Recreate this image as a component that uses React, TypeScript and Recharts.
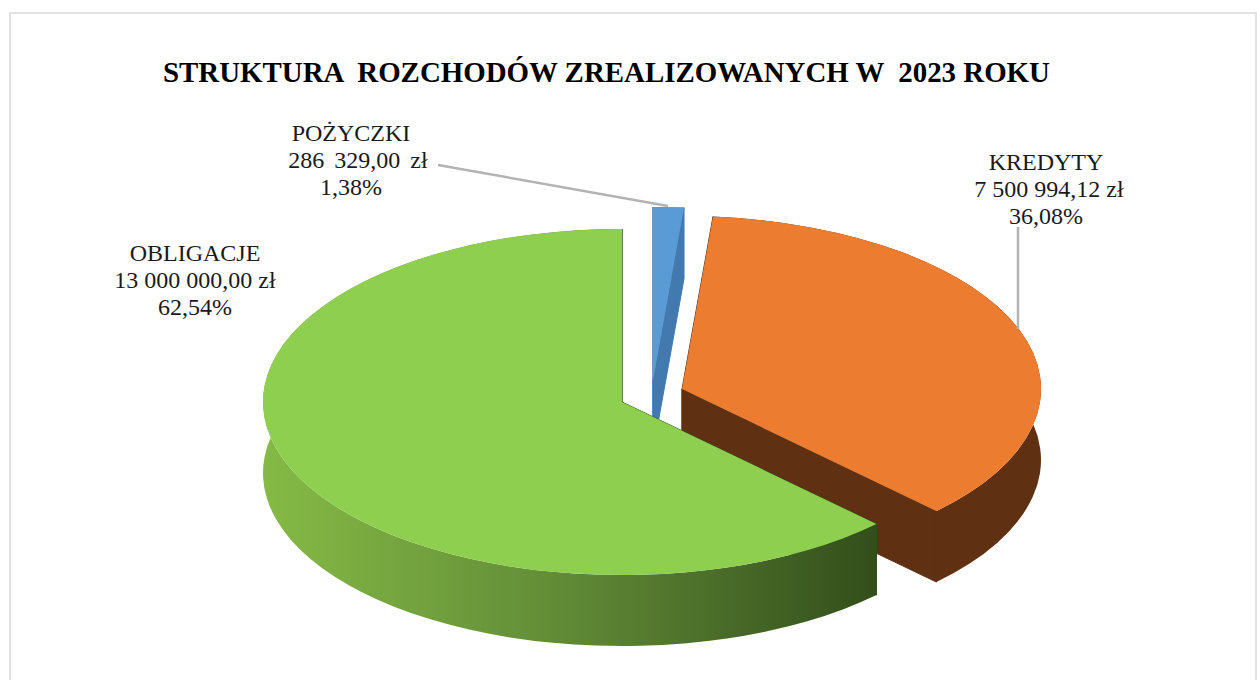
import { PieChart, Pie } from 'recharts';

const categories = ['POŻYCZKI', 'KREDYTY', 'OBLIGACJE'];
const amounts = [286329.0, 7500994.12, 13000000.0];
const amountLabels = ['286 329,00 zł', '7 500 994,12 zł', '13 000 000,00 zł'];
const percentLabels = ['1,38%', '36,08%', '62,54%'];

const topColors = ['#5b9bd5', '#ec7c30', '#8ecf50'];
const sideColors = ['#4279ae', '#5f3012', 'url(#greenSide)'];
const cutColors = ['#4279ae', '#5f3012', '#344f1c'];

// how far each slice is pulled out of the pie
const explode = [
  { dx: 31, dy: -22 },
  { dx: 60, dy: -13 },
  { dx: 0, dy: 0 },
];
const labelPos = [
  { x: 351, y: 141, amountShift: 7, wordSpacing: 4 },
  { x: 1046, y: 170, amountShift: 3, wordSpacing: 0 },
  { x: 195, y: 261, amountShift: 0, wordSpacing: 0 },
];
const leaders = [
  [[438, 165], [668, 206]],
  [[1018, 227], [1018, 329]],
];

const TILT = 0.482; // squash of the pie's ellipse
const DEPTH = 71;
const RAD = Math.PI / 180;

const data = categories.map((name, i) => ({ name, value: amounts[i], fill: topColors[i] }));

function Slice3D(props: any) {
  const { cx, cy, outerRadius: r, startAngle, endAngle, index } = props;
  const i = index ?? categories.indexOf(props.name);
  const ox = cx + explode[i].dx;
  const oy = cy + explode[i].dy;
  const ry = r * TILT;
  const pt = (a: number) => [ox + r * Math.cos(a * RAD), oy - ry * Math.sin(a * RAD)];
  const [x1, y1] = pt(startAngle);
  const [x2, y2] = pt(endAngle);
  const large = Math.abs(endAngle - startAngle) > 180 ? 1 : 0;

  const top = `M${ox},${oy} L${x1},${y1} A${r},${ry} 0 ${large} 1 ${x2},${y2} Z`;
  const side =
    `M${x1},${y1} A${r},${ry} 0 ${large} 1 ${x2},${y2} L${x2},${y2 + DEPTH} ` +
    `A${r},${ry} 0 ${large} 0 ${x1},${y1 + DEPTH} Z`;
  const cutA = `M${ox},${oy} L${x1},${y1} L${x1},${y1 + DEPTH} L${ox},${oy + DEPTH} Z`;
  const cutB = `M${ox},${oy} L${x2},${y2} L${x2},${y2 + DEPTH} L${ox},${oy + DEPTH} Z`;

  return (
    <g>
      <path d={cutA} fill={cutColors[i]} stroke={cutColors[i]} strokeWidth={1} />
      <path d={cutB} fill={cutColors[i]} stroke={cutColors[i]} strokeWidth={1} />
      <path d={side} fill={sideColors[i]} />
      <path d={top} fill={topColors[i]} />
    </g>
  );
}

function SliceLabel(props: any) {
  const i = props.index;
  const pos = labelPos[i];
  const line = leaders[i];
  return (
    <g>
      {line && (
        <line x1={line[0][0]} y1={line[0][1]} x2={line[1][0]} y2={line[1][1]} stroke="#b3b3b3" strokeWidth={2.5} />
      )}
      <text x={pos.x} y={pos.y} textAnchor="middle" fontFamily="Liberation Serif" fontSize={24} fill="#1a1a1a">
        <tspan x={pos.x}>{categories[i]}</tspan>
        <tspan x={pos.x + pos.amountShift} dy={27} style={{ wordSpacing: pos.wordSpacing }}>{amountLabels[i]}</tspan>
        <tspan x={pos.x} dy={27}>{percentLabels[i]}</tspan>
      </text>
    </g>
  );
}

export default function App() {
  return (
    <div style={{ position: 'absolute', left: 0, top: 0, width: 1257, height: 680, overflow: 'hidden', background: '#fff' }}>
      <div style={{ position: 'absolute', left: 9, top: 12, width: 1400, height: 800, border: '2px solid #e2e2e2', borderRight: 'none' }} />
      <div style={{ position: 'absolute', right: 0, top: 12, width: 2, height: 680, background: '#e2e2e2' }} />
      <PieChart
        width={1257}
        height={680}
        margin={{ top: 0, right: 0, bottom: 0, left: 0 }}
        style={{ position: 'absolute', left: 0, top: 0 }}
      >
        <defs>
          <linearGradient id="greenSide" x1="0" y1="0" x2="1" y2="0">
            <stop offset="0" stopColor="#85ba45" />
            <stop offset="0.45" stopColor="#648f38" />
            <stop offset="1" stopColor="#334e1b" />
          </linearGradient>
        </defs>
        <text x={606.5} y={82} textAnchor="middle" fontFamily="Liberation Serif" fontWeight="bold" fontSize={28.9} fill="#000" style={{ whiteSpace: 'pre' }}>
          {'STRUKTURA  ROZCHODÓW ZREALIZOWANYCH W  2023 ROKU'}
        </text>
        <Pie
          data={data}
          dataKey="value"
          nameKey="name"
          cx={622}
          cy={402}
          innerRadius={0}
          outerRadius={359}
          startAngle={90}
          endAngle={-270}
          stroke="none"
          shape={Slice3D}
          label={SliceLabel}
          labelLine={false}
          isAnimationActive={false}
        />
      </PieChart>
    </div>
  );
}
